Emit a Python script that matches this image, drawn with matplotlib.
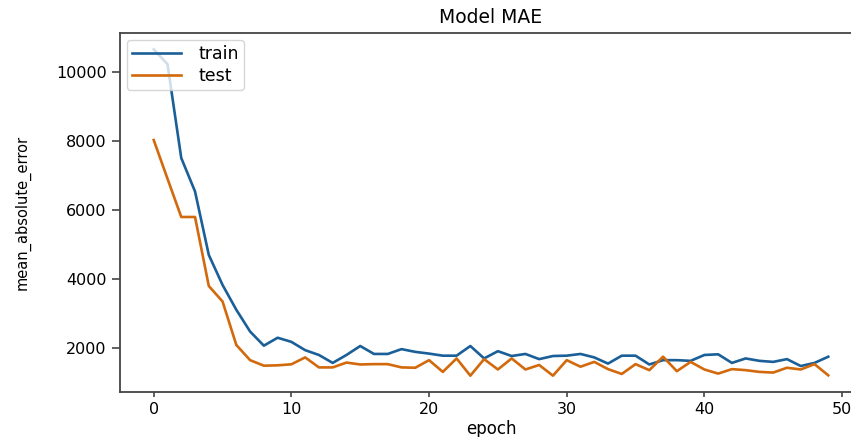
import matplotlib
matplotlib.use("Agg")
import matplotlib.pyplot as plt

# values
epochs = list(range(50))
train_mae = [10650, 10220, 7500, 6530, 4690, 3820, 3100, 2470, 2060, 2290,
             2170, 1930, 1790, 1560, 1790, 2050, 1820, 1820, 1960, 1880,
             1830, 1770, 1770, 2050, 1690, 1900, 1760, 1820, 1670, 1760,
             1770, 1820, 1720, 1540, 1770, 1770, 1515, 1640, 1640, 1620,
             1790, 1810, 1560, 1690, 1620, 1590, 1670, 1470, 1560, 1740]
test_mae = [8020, 6900, 5790, 5790, 3790, 3340, 2080, 1640, 1480, 1490,
            1520, 1720, 1430, 1430, 1570, 1515, 1525, 1525, 1430, 1420,
            1640, 1300, 1690, 1190, 1670, 1370, 1690, 1370, 1500, 1190,
            1640, 1450, 1590, 1380, 1240, 1525, 1350, 1740, 1320, 1590,
            1370, 1250, 1380, 1350, 1300, 1280, 1420, 1370, 1525, 1200]
legend_labels = ['train', 'test']

fig = plt.figure(figsize=(8.51, 4.37), dpi=100)
ax = fig.add_axes([120/851, 45/437, 742/851, 359/437])

ax.plot(epochs, train_mae, color='#1a5f97', lw=1.9, label=legend_labels[0])
ax.plot(epochs, test_mae, color='#d2690c', lw=1.9, label=legend_labels[1])

ax.set_title('Model MAE', fontsize=13.5, pad=7)
ax.set_xlabel('epoch', fontsize=12, labelpad=2)
ax.set_ylabel('mean_absolute_error', fontsize=10.5, labelpad=18)
ax.set_xticks([0, 10, 20, 30, 40, 50])
ax.set_yticks([2000, 4000, 6000, 8000, 10000])
ax.tick_params(axis='both', labelsize=11.5, color='#444444', width=1.2)
ax.tick_params(axis='y', length=6)
for s in ax.spines.values():
    s.set_color('#444444')
    s.set_linewidth(1.3)
ax.spines['right'].set_visible(False)  # cut off in the reference

ax.legend(loc='upper left', fontsize=12.5, handlelength=2.8, borderaxespad=0.4,
          labelspacing=0.2, borderpad=0.3, handletextpad=1.0)

fig.savefig('out.png', dpi=100)
